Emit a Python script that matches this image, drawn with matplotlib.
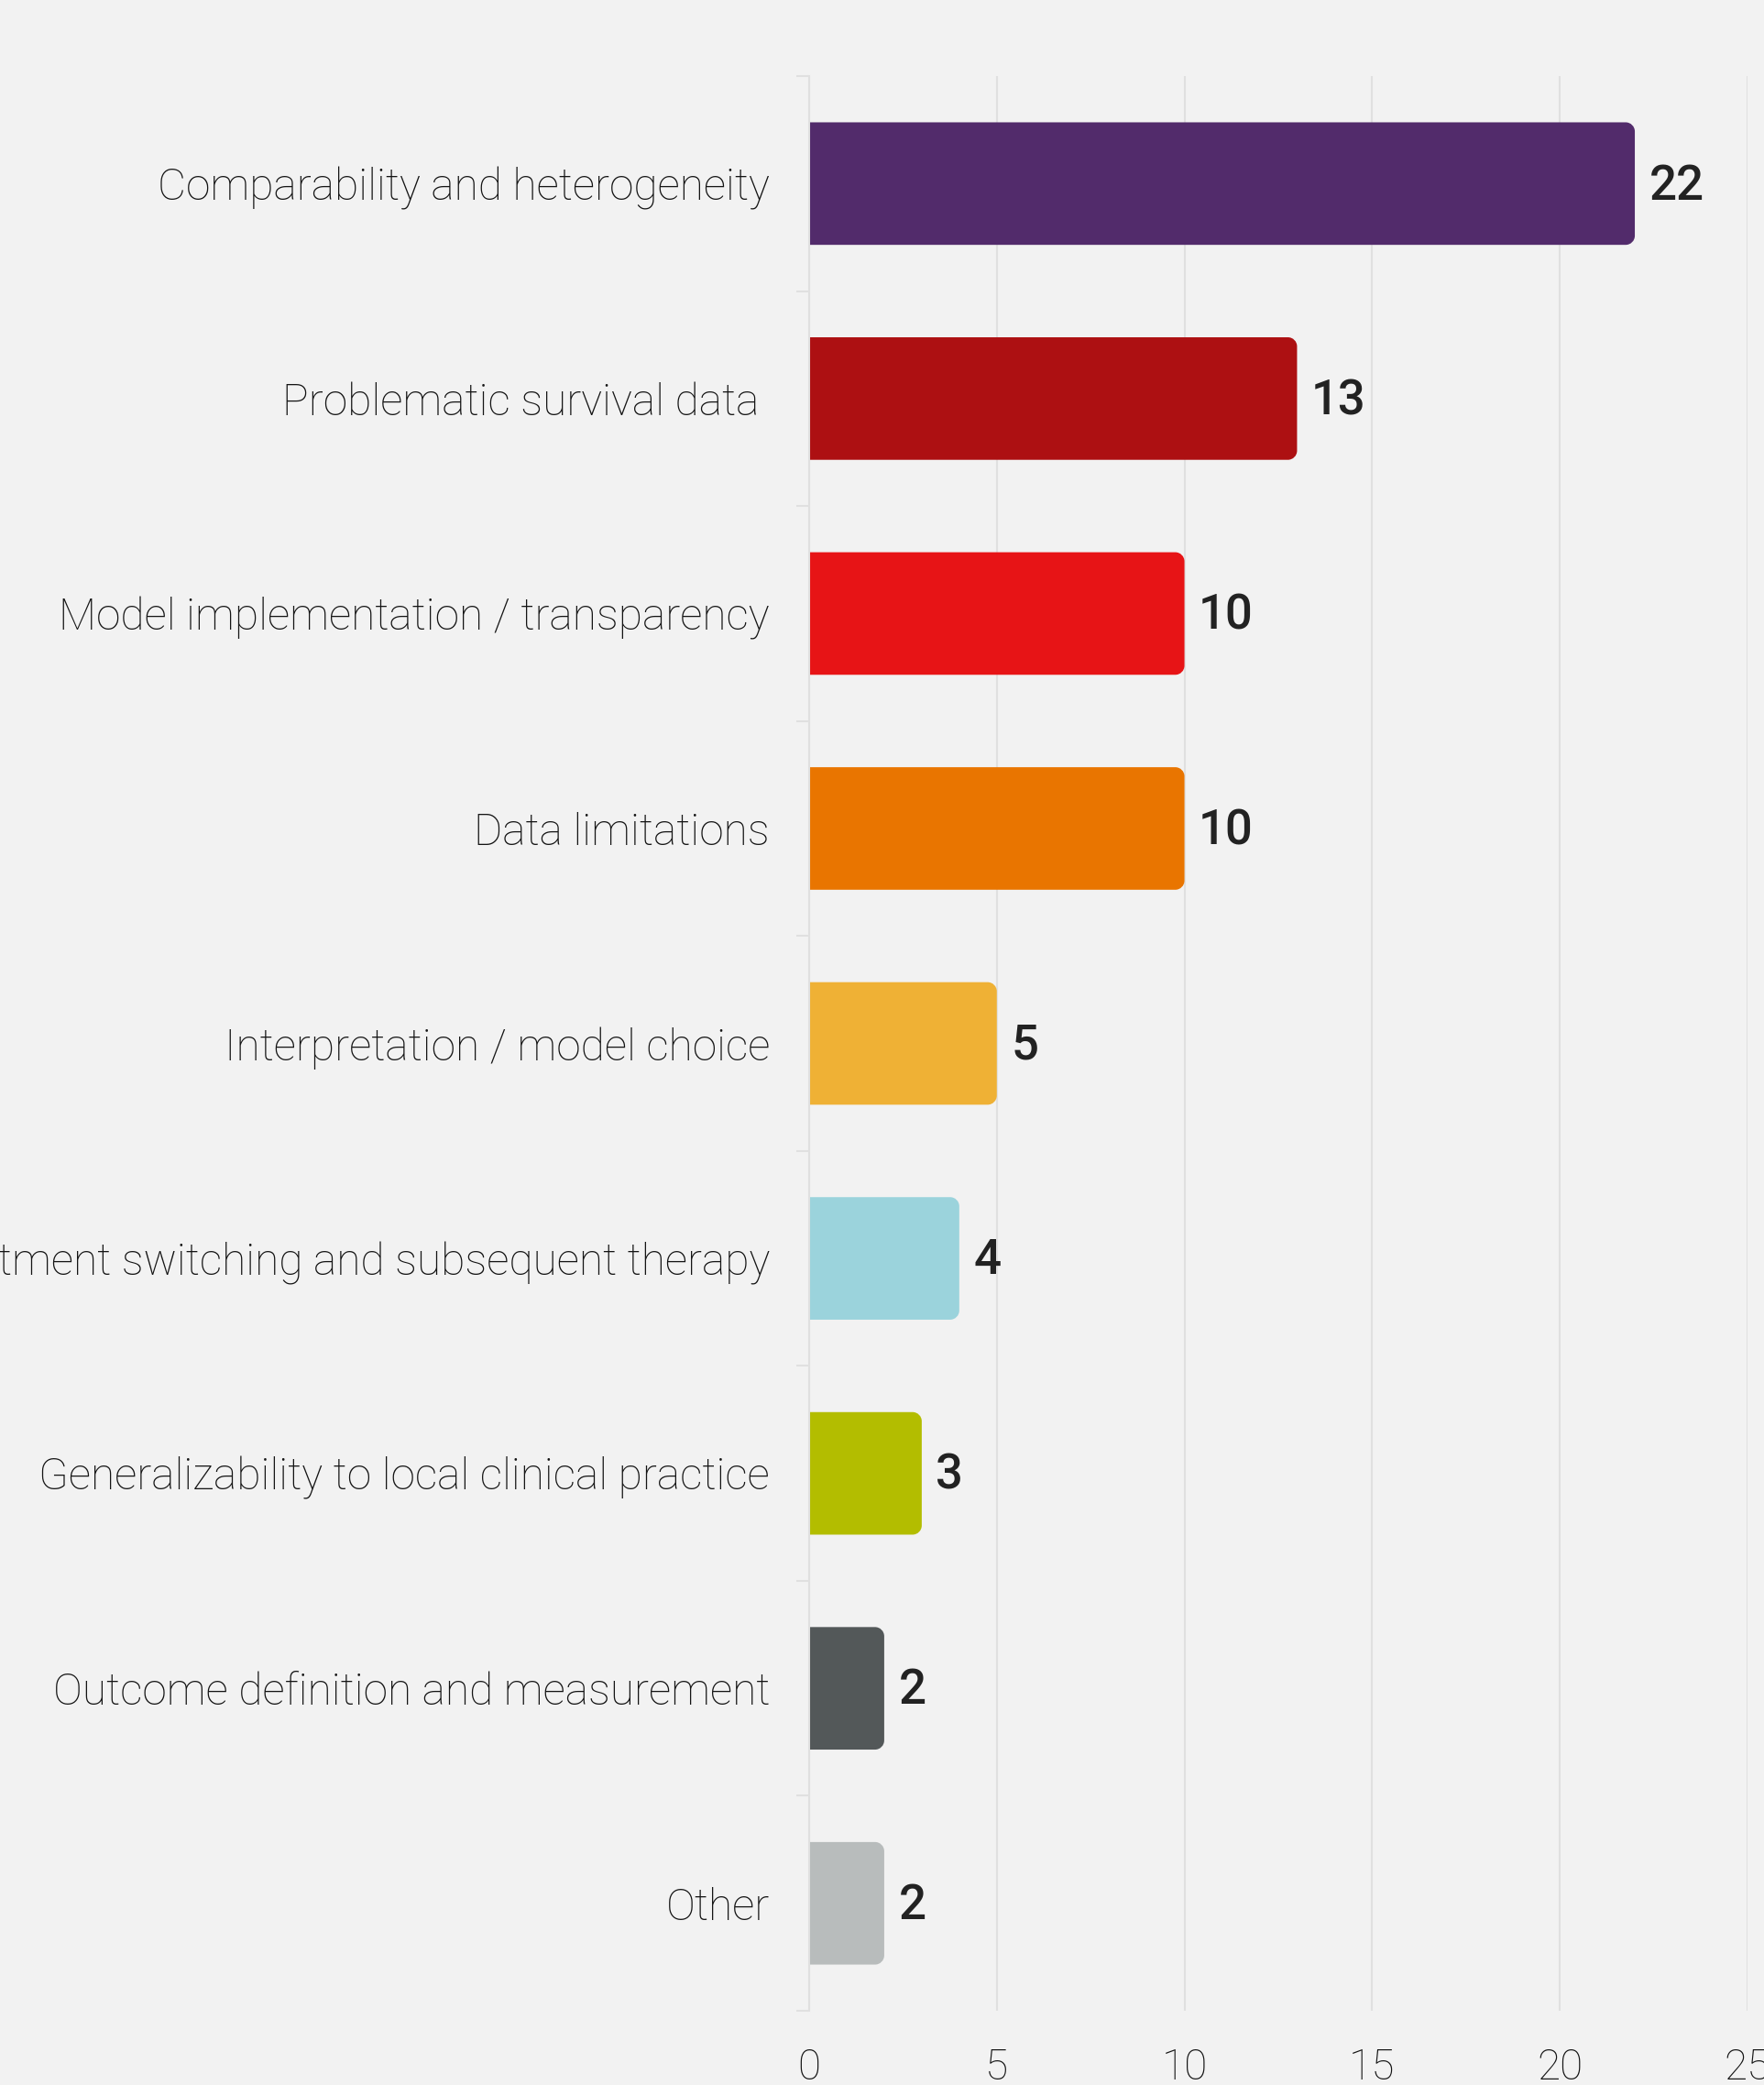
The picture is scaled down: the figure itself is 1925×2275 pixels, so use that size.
import matplotlib
matplotlib.use("Agg")
import matplotlib.pyplot as plt
from matplotlib.patches import PathPatch
from matplotlib.path import Path

# Issue categories, counts and bar colours (top to bottom)
categories = [
    "Comparability and heterogeneity",
    "Problematic survival data ",
    "Model implementation / transparency",
    "Data limitations",
    "Interpretation / model choice",
    "Treatment switching and subsequent therapy",
    "Generalizability to local clinical practice",
    "Outcome definition and measurement",
    "Other",
]
counts = [22, 13, 10, 10, 5, 4, 3, 2, 2]
colors = ["#522B6B", "#AD1012", "#E71416", "#E97500", "#EFB135",
          "#9BD3DC", "#B3BD00", "#535859", "#B8BCBC"]
x_ticks = [0, 5, 10, 15, 20, 25]

BG = "#F2F2F2"
GRID = "#E0E0E0"
TEXT = "#222222"
LABEL = "#141414"

plt.rcParams["font.family"] = ["Roboto", "Liberation Sans", "DejaVu Sans"]

fig = plt.figure(figsize=(19.25, 22.75), dpi=100, facecolor=BG)
rect = [0.4587, 0.0356, 0.5319, 0.9279]
ax = fig.add_axes(rect, facecolor=BG)

n = len(categories)
ypos = list(range(n))
bar_h = 0.57

ax.set_xlim(0, 25)
ax.set_ylim(n - 0.5, -0.5)

# data units per pixel, so the rounded corners stay circular
x_per_px = 25 / (rect[2] * 1925)
y_per_px = n / (rect[3] * 2275)
r_px = 10
rx, ry = r_px * x_per_px, r_px * y_per_px
K = 0.5523  # cubic bezier quarter-circle constant


def right_rounded_bar(v, y, h):
    """Bar path from x=0 to x=v, square on the left, rounded on the right."""
    top, bot = y - h / 2, y + h / 2
    verts = [
        (0, top), (v - rx, top),
        (v - rx + K * rx, top), (v, top + ry - K * ry), (v, top + ry),
        (v, bot - ry),
        (v, bot - ry + K * ry), (v - rx + K * rx, bot), (v - rx, bot),
        (0, bot), (0, top),
    ]
    codes = [Path.MOVETO, Path.LINETO,
             Path.CURVE4, Path.CURVE4, Path.CURVE4,
             Path.LINETO,
             Path.CURVE4, Path.CURVE4, Path.CURVE4,
             Path.LINETO, Path.CLOSEPOLY]
    return Path(verts, codes)


for y, v, c in zip(ypos, counts, colors):
    ax.add_patch(PathPatch(right_rounded_bar(v, y, bar_h), facecolor=c,
                           edgecolor="none", zorder=3))
    ax.text(v + 0.38, y + 0.012, str(v), va="center", ha="left", fontsize=38,
            fontweight="medium", color=TEXT, zorder=4)

# vertical gridlines
ax.set_xticks(x_ticks)
ax.set_xticklabels([str(t) for t in x_ticks], fontsize=33, color=LABEL,
                   fontweight="light")
ax.tick_params(axis="x", length=0, pad=29)
ax.grid(axis="x", color=GRID, linewidth=1.5, zorder=0)
ax.set_axisbelow(True)

# category labels between boundary ticks
ax.set_yticks(ypos)
ax.set_yticklabels(categories, fontsize=34.5, color=LABEL, fontweight="light")
ax.tick_params(axis="y", length=0, pad=31)
ax.set_yticks([i - 0.5 for i in range(n + 1)], minor=True)
ax.tick_params(axis="y", which="minor", length=10, width=1.5, color=GRID)

for side in ["top", "right", "bottom"]:
    ax.spines[side].set_visible(False)
ax.spines["left"].set_color(GRID)
ax.spines["left"].set_linewidth(1.5)
ax.spines["left"].set_zorder(5)

fig.savefig("out.png", dpi=100, facecolor=BG)
